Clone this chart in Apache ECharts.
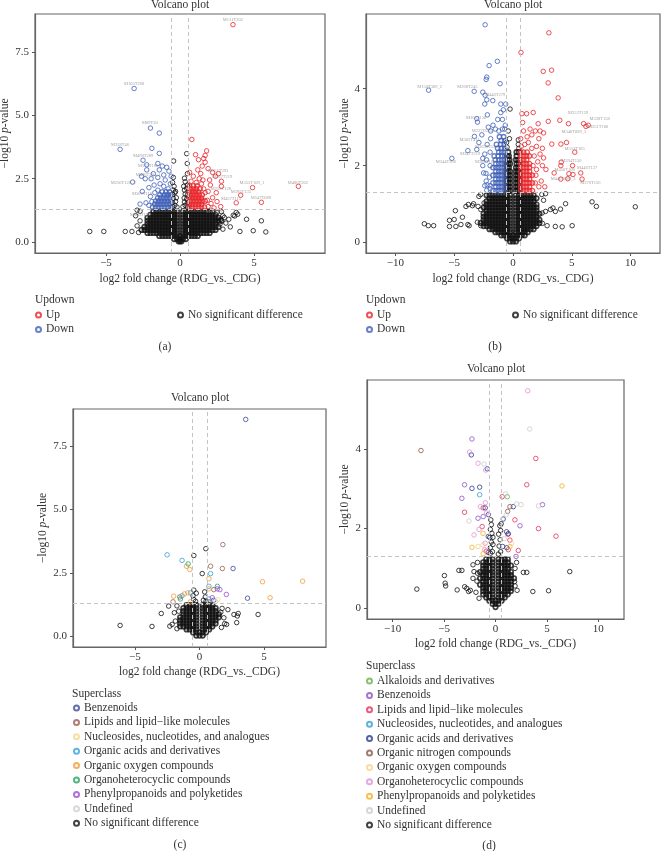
<!DOCTYPE html>
<html>
<head>
<meta charset="utf-8">
<script src="https://cdn.jsdelivr.net/npm/echarts@6/dist/echarts.min.js"></script>
<style>
  html, body { margin: 0; padding: 0; background: #fff; }
  #chart { width: 662px; height: 851px; }
</style>
</head>
<body>
<div id="chart"></div>
<script>
// ---------- panel (a) : Updown, dataset 1 ----------
// rows: [y, x1, x2, ...] read off the dense black cone
const aNsRows = [
  [0.03, -0.1, 0, 0.1],
  [0.12, -0.4, -0.2, 0, 0.2, 0.4],
  [0.24, -1.4, -1.2, -1.0, -0.8, -0.6, -0.4, -0.2, 0, 0.2, 0.4, 0.6, 0.8, 1.0, 1.2],
  [0.36, -2.2, -2.0, -1.8, -1.6, -1.4, -1.2, -1.0, -0.8, -0.6, -0.4, -0.2, 0.2, 0.4, 0.6, 0.8, 1.0, 1.2, 1.4, 1.6, 1.8, 2.0],
  [0.48, -2.6, -2.4, -2.2, -2.0, -1.8, -1.6, -1.4, -1.2, -1.0, -0.8, -0.6, -0.4, -0.2, 0.2, 0.4, 0.6, 0.8, 1.0, 1.2, 1.4, 1.6, 1.8, 2.0, 2.2, 2.4],
  [0.6, -2.4, -2.2, -2.0, -1.8, -1.6, -1.4, -1.2, -1.0, -0.8, -0.6, -0.4, -0.2, 0.2, 0.4, 0.6, 0.8, 1.0, 1.2, 1.4, 1.6, 1.8, 2.0, 2.2, 2.4, 2.6],
  [0.72, -2.2, -2.0, -1.8, -1.6, -1.4, -1.2, -1.0, -0.8, -0.6, -0.4, -0.2, 0.2, 0.4, 0.6, 0.8, 1.0, 1.2, 1.4, 1.6, 1.8, 2.0, 2.2, 2.4],
  [0.84, -2.2, -2.0, -1.8, -1.6, -1.4, -1.2, -1.0, -0.8, -0.6, -0.4, -0.2, 0.2, 0.4, 0.6, 0.8, 1.0, 1.2, 1.4, 1.6, 1.8, 2.0, 2.2, 2.4, 2.6, 2.8],
  [0.96, -2.2, -2.0, -1.8, -1.6, -1.4, -1.2, -1.0, -0.8, -0.6, -0.4, -0.2, 0.2, 0.4, 0.6, 0.8, 1.0, 1.2, 1.4, 1.6, 1.8, 2.0, 2.2, 2.4, 2.6],
  [1.08, -2.0, -1.8, -1.6, -1.4, -1.2, -1.0, -0.8, -0.6, -0.4, -0.2, 0.2, 0.4, 0.6, 0.8, 1.0, 1.2, 1.4, 1.6, 1.8, 2.0, 2.2, 2.4],
  [1.2, -1.8, -1.6, -1.4, -1.2, -1.0, -0.8, -0.6, -0.4, -0.2, 0.2, 0.4, 0.6, 0.8, 1.0, 1.2, 1.4, 1.6, 1.8, 2.0, 2.2]
];
const aNsPts = [
  [-0.5, 1.4], [-0.35, 1.45], [-0.2, 1.38], [0.2, 1.4], [0.35, 1.45], [0.5, 1.38], [-0.5, 1.55], [-0.3, 1.6],
  [0.3, 1.58], [0.5, 1.55], [-0.45, 1.72], [-0.25, 1.75], [0.28, 1.74], [0.45, 1.7], [-0.5, 1.88], [-0.35, 1.95],
  [0.35, 1.9], [0.5, 1.86], [-0.45, 2.05], [0.3, 2.05], [0.45, 2.12], [-0.4, 2.2], [0.5, 2.25], [-0.5, 2.35],
  [0.35, 2.38], [-0.45, 2.55], [0.3, 2.52], [0.5, 2.7], [0.49, 3.1], [-0.43, 3.2], [0.45, 3.49], [-0.3, 2.0], [0.25, 2.2],
  [-6.1, 0.42], [-5.15, 0.42], [-3.7, 0.42], [-3.25, 0.42], [-2.9, 0.64], [-2.7, 0.84], [-3.0, 1.04], [-2.7, 1.22],
  [-2.9, 1.26], [-2.8, 0.38], [2.5, 1.17], [2.9, 1.04], [3.3, 0.9], [3.6, 1.06], [3.8, 1.17], [4.5, 0.9], [5.5, 0.84],
  [4.05, 0.42], [4.95, 0.45], [5.8, 0.4], [2.7, 0.71], [2.9, 0.51], [3.0, 0.97], [3.7, 1.03], [3.9, 1.1], [2.75, 0.9],
  [3.1, 0.75], [2.8, 1.2], [3.4, 0.6]
];
const aUpRows = [
  [1.38, 0.65, 0.85, 1.05, 1.25, 1.45, 1.65],
  [1.5, 0.65, 0.85, 1.05, 1.25, 1.45],
  [1.62, 0.7, 0.9, 1.1, 1.3, 1.5, 1.7],
  [1.74, 0.65, 0.85, 1.05, 1.25, 1.45],
  [1.86, 0.7, 0.9, 1.1, 1.3, 1.5],
  [1.98, 0.65, 0.85, 1.05, 1.25],
  [2.1, 0.7, 0.9, 1.1, 1.35],
  [2.22, 0.65, 0.9, 1.15]
];
const aUpPts = [
  [1.9, 1.4], [2.1, 1.52], [1.85, 1.65], [2.2, 1.75], [1.7, 1.95], [1.6, 2.1], [1.9, 2.0], [2.05, 2.25], [1.45, 2.3],
  [0.75, 2.4], [1.1, 2.35], [1.3, 2.5], [0.9, 2.6], [1.55, 2.45], [2.0, 2.45], [1.4, 2.7], [0.65, 2.75], [1.2, 2.85],
  [1.5, 3.0], [1.7, 3.15], [1.25, 3.25], [1.6, 3.3], [1.05, 3.45], [1.7, 3.42], [1.8, 3.6], [0.8, 4.05], [2.2, 2.75],
  [2.4, 2.6], [2.3, 1.35], [2.6, 2.7], [2.8, 2.4], [2.8, 2.2], [2.75, 1.4], [3.58, 8.58], [4.9, 2.15], [4.1, 1.85],
  [3.8, 1.55], [5.5, 1.57], [8.0, 2.2], [1.9, 2.9], [2.45, 1.95], [2.5, 1.6]
];
const aDownRows = [
  [1.38, -0.65, -0.85, -1.05, -1.25, -1.45, -1.65, -1.85],
  [1.5, -0.7, -0.9, -1.1, -1.3, -1.5, -1.7],
  [1.62, -0.65, -0.85, -1.05, -1.25, -1.45, -1.65],
  [1.74, -0.7, -0.9, -1.1, -1.3, -1.5],
  [1.86, -0.65, -0.85, -1.05, -1.35],
  [1.98, -0.7, -0.95, -1.2]
];
const aDownPts = [
  [-1.9, 1.6], [-2.1, 1.45], [-2.3, 1.55], [-2.0, 1.8], [-1.7, 1.95], [-1.5, 2.05], [-0.8, 2.1], [-1.1, 2.2],
  [-0.65, 2.3], [-1.35, 2.3], [-1.75, 2.25], [-2.1, 2.15], [-2.55, 2.0], [-1.95, 2.5], [-1.5, 2.55], [-1.1, 2.65],
  [-0.75, 2.8], [-0.6, 2.6], [-1.4, 2.85], [-1.8, 2.7], [-2.25, 2.85], [-1.2, 3.0], [-0.9, 2.95], [-1.5, 3.1],
  [-1.4, 3.5], [-1.9, 3.7], [-2.5, 3.23], [-2.0, 4.5], [-1.4, 4.3], [-4.05, 3.66], [-3.1, 6.06], [-3.2, 2.37],
  [-2.7, 1.5], [-2.6, 2.6], [-2.25, 3.05], [-2.35, 2.5], [-1.0, 2.45]
];
const aLabels = [
  [3.58, 8.76, 'M131T202'], [-3.1, 6.26, 'M105T268'], [-2.03, 4.7, 'M89T20'], [-4.05, 3.84, 'M338T46'],
  [-2.5, 3.4, 'M498T289'], [-2.16, 3.0, 'M519T183'], [-2.16, 2.64, 'M486T284_1'], [-3.85, 2.32, 'M250T128_2'],
  [-2.57, 1.89, 'M307T118'], [-2.7, 1.06, 'M500T190'], [2.57, 2.83, 'M351T393'], [2.84, 2.56, 'M357T219'],
  [2.77, 2.09, 'M255T128'], [4.86, 2.32, 'M355T109_1'], [4.12, 2.0, 'M395T135'], [3.45, 1.69, 'M457T115'],
  [5.47, 1.73, 'M547T089'], [7.97, 2.32, 'M486T202'], [2.36, 1.18, 'M179T99']
];

// ---------- panel (b) : Updown, dataset 2 ----------
const bNsRows = [
  [0.03, -0.25, 0, 0.25],
  [0.11, -0.5, -0.25, 0, 0.25, 0.5],
  [0.19, -1.0, -0.75, -0.5, -0.25, 0, 0.25, 0.5, 0.75, 1.0],
  [0.27, -1.5, -1.25, -1.0, -0.75, -0.5, -0.25, 0.25, 0.5, 0.75, 1.0, 1.25],
  [0.35, -2.0, -1.75, -1.5, -1.25, -1.0, -0.75, -0.5, -0.25, 0.25, 0.5, 0.75, 1.0, 1.25, 1.5, 1.75],
  [0.43, -2.5, -2.25, -2.0, -1.75, -1.5, -1.25, -1.0, -0.75, -0.5, -0.25, 0.25, 0.5, 0.75, 1.0, 1.25, 1.5, 1.75, 2.0],
  [0.51, -2.75, -2.5, -2.25, -2.0, -1.75, -1.5, -1.25, -1.0, -0.75, -0.5, -0.25, 0.25, 0.5, 0.75, 1.0, 1.25, 1.5, 1.75, 2.0, 2.25],
  [0.59, -2.5, -2.25, -2.0, -1.75, -1.5, -1.25, -1.0, -0.75, -0.5, -0.25, 0.25, 0.5, 0.75, 1.0, 1.25, 1.5, 1.75, 2.0, 2.25],
  [0.67, -2.5, -2.25, -2.0, -1.75, -1.5, -1.25, -1.0, -0.75, -0.5, -0.25, 0.25, 0.5, 0.75, 1.0, 1.25, 1.5, 1.75, 2.0],
  [0.75, -2.5, -2.25, -2.0, -1.75, -1.5, -1.25, -1.0, -0.75, -0.5, -0.25, 0.25, 0.5, 0.75, 1.0, 1.25, 1.5, 1.75, 2.0, 2.25],
  [0.83, -2.25, -2.0, -1.75, -1.5, -1.25, -1.0, -0.75, -0.5, -0.25, 0.25, 0.5, 0.75, 1.0, 1.25, 1.5, 1.75, 2.0],
  [0.91, -2.5, -2.25, -2.0, -1.75, -1.5, -1.25, -1.0, -0.75, -0.5, -0.25, 0.25, 0.5, 0.75, 1.0, 1.25, 1.5, 1.75, 2.0],
  [0.99, -2.25, -2.0, -1.75, -1.5, -1.25, -1.0, -0.75, -0.5, -0.25, 0.25, 0.5, 0.75, 1.0, 1.25, 1.5, 1.75, 2.0],
  [1.07, -2.25, -2.0, -1.75, -1.5, -1.25, -1.0, -0.75, -0.5, -0.25, 0.25, 0.5, 0.75, 1.0, 1.25, 1.5, 1.75],
  [1.15, -2.0, -1.75, -1.5, -1.25, -1.0, -0.75, -0.5, -0.25, 0.25, 0.5, 0.75, 1.0, 1.25, 1.5, 1.75, 2.0],
  [1.23, -2.25, -2.0, -1.75, -1.5, -1.25, -1.0, -0.75, -0.5, -0.25, 0.25, 0.5, 0.75, 1.0, 1.25, 1.5, 1.75],
  [1.35, -0.55, -0.4, -0.25, 0.25, 0.4, 0.55],
  [1.45, -0.55, -0.4, -0.25, 0.25, 0.4, 0.55],
  [1.55, -0.55, -0.4, -0.25, 0.25, 0.4, 0.55],
  [1.65, -0.55, -0.4, -0.25, 0.25, 0.4, 0.55],
  [1.75, -0.55, -0.4, -0.25, 0.25, 0.4, 0.55],
  [1.85, -0.55, -0.4, -0.25, 0.25, 0.4, 0.5],
  [1.95, -0.5, -0.35, 0.25, 0.45],
  [2.05, -0.55, -0.4, -0.25, 0.3, 0.5],
  [2.15, -0.45, -0.3, 0.25, 0.45],
  [2.25, -0.5, -0.35, 0.3],
  [2.35, -0.4, 0.3, 0.5]
];
const bNsPts = [
  [-0.55, 2.6], [-0.3, 2.7], [-0.4, 2.9], [0.45, 2.55], [0.45, 2.67], [-0.25, 3.47], [0.5, 2.45], [-0.5, 2.48],
  [-7.54, 0.49], [-7.2, 0.44], [-6.75, 0.44], [-5.4, 0.58], [-5.0, 0.6], [-5.4, 0.42], [-4.86, 0.42], [-4.43, 0.47],
  [-4.9, 0.83], [-4.3, 0.66], [-3.8, 0.99], [-3.45, 0.96], [-2.97, 0.94], [-2.74, 0.86], [-3.73, 0.44], [-3.03, 0.53],
  [-2.74, 0.44], [-2.46, 1.03], [-3.36, 1.01], [-4.0, 0.94], [-3.84, 0.47], [-2.9, 1.2], [-2.75, 1.25],
  [2.77, 1.27], [2.48, 0.77], [2.77, 0.81], [3.19, 0.86], [3.6, 0.81], [4.04, 0.87], [4.47, 1.01], [2.9, 0.44],
  [3.6, 0.42], [4.18, 0.41], [5.03, 0.44], [6.72, 1.06], [7.09, 0.94], [10.4, 0.93], [2.5, 0.5], [2.6, 1.1],
  [2.45, 1.25], [3.4, 0.9]
];
const bUpRows = [
  [1.35, 0.65, 0.9, 1.15, 1.4, 1.65],
  [1.45, 0.65, 0.9, 1.15, 1.4],
  [1.55, 0.65, 0.9, 1.15, 1.4, 1.65],
  [1.65, 0.65, 0.9, 1.15, 1.4],
  [1.75, 0.65, 0.9, 1.15, 1.4, 1.65],
  [1.85, 0.65, 0.9, 1.15, 1.4],
  [1.95, 0.65, 0.9, 1.15, 1.4],
  [2.05, 0.65, 0.9, 1.15, 1.4],
  [2.15, 0.65, 0.9, 1.15],
  [2.25, 0.65, 0.9, 1.15, 1.4],
  [2.35, 0.65, 0.9, 1.2]
];
const bUpPts = [
  [1.9, 1.55], [2.2, 1.45], [1.95, 1.75], [2.0, 1.9], [2.4, 1.6], [1.7, 2.0], [2.1, 2.1], [1.8, 2.25], [2.5, 2.0],
  [1.6, 2.45], [0.7, 2.5], [1.0, 2.55], [1.3, 2.6], [2.0, 2.5], [2.3, 2.3], [0.65, 2.7], [1.2, 2.75], [1.6, 2.8],
  [2.2, 2.7], [2.5, 2.45], [0.9, 2.9], [1.45, 2.95], [1.9, 2.9], [2.6, 2.85], [2.7, 1.45], [2.8, 1.9], [2.3, 2.9],
  [2.6, 2.2], [3.05, 5.45], [0.68, 4.94], [2.57, 4.45], [3.28, 4.48], [2.99, 4.15], [3.84, 3.76], [4.72, 3.09],
  [6.0, 3.09], [6.2, 3.02], [6.4, 3.05], [3.98, 3.18], [3.0, 3.15], [2.14, 3.09], [1.72, 3.38], [1.16, 3.35],
  [0.76, 3.35], [0.82, 3.12], [3.3, 2.56], [4.07, 2.56], [4.55, 2.6], [5.25, 2.35], [4.1, 2.09], [4.07, 2.0],
  [5.06, 2.0], [3.5, 1.81], [4.75, 1.79], [5.1, 1.77], [5.76, 1.81], [4.07, 1.65], [4.66, 1.66], [5.87, 1.65]
];
const bDownRows = [
  [1.35, -0.7, -0.95, -1.2, -1.45, -1.7],
  [1.45, -0.7, -0.95, -1.2, -1.45],
  [1.55, -0.7, -0.95, -1.2, -1.45, -1.7],
  [1.65, -0.7, -0.95, -1.2, -1.45],
  [1.75, -0.7, -0.95, -1.2, -1.45, -1.7],
  [1.85, -0.7, -0.95, -1.2, -1.45],
  [1.95, -0.7, -0.95, -1.2, -1.45, -1.7],
  [2.05, -0.7, -0.95, -1.2, -1.45],
  [2.15, -0.7, -0.95, -1.2, -1.5],
  [2.25, -0.7, -0.95, -1.25, -1.6],
  [2.35, -0.7, -0.95, -1.2],
  [2.45, -0.7, -1.0, -1.3],
  [2.55, -0.75, -1.05, -1.4],
  [2.65, -0.7, -1.0],
  [2.75, -0.8, -1.15]
];
const bDownPts = [
  [-1.95, 1.4], [-2.2, 1.5], [-2.0, 1.7], [-2.3, 1.8], [-1.95, 2.0], [-2.25, 2.15], [-1.95, 2.35], [-2.2, 2.55],
  [-1.9, 2.7], [-2.4, 2.3], [-2.57, 2.19], [-2.57, 2.0], [-2.5, 1.81], [-2.28, 1.6], [-2.4, 1.48], [-2.23, 1.36],
  [-1.94, 1.48], [-1.9, 2.9], [-1.5, 2.95], [-1.2, 2.9], [-0.9, 2.95], [-0.7, 2.95], [-2.1, 3.0], [-1.7, 3.05],
  [-1.3, 3.2], [-0.9, 3.2], [-0.65, 3.05], [-2.37, 5.66], [-1.33, 4.71], [-2.03, 4.6], [-2.23, 4.3], [-2.28, 4.24],
  [-1.1, 4.13], [-7.18, 3.96], [-3.3, 3.93], [-2.57, 3.91], [-2.37, 3.83], [-2.23, 3.71], [-2.4, 3.6], [-1.72, 3.69],
  [-1.04, 3.6], [-0.62, 3.6], [-0.82, 3.45], [-1.04, 3.38], [-2.18, 3.32], [-3.08, 3.22], [-3.02, 3.13],
  [-3.28, 2.76], [-3.08, 2.42], [-3.84, 2.39], [-5.2, 2.19], [-2.65, 2.8], [-2.9, 2.6]
];
const bLabels = [
  [-7.1, 4.04, 'M150T309_2'], [-3.87, 4.06, 'M268T245'], [-1.53, 3.84, 'M440T279'], [-3.14, 3.24, 'M365T150'],
  [-2.65, 2.91, 'M227T085'], [-3.7, 2.68, 'M302T411'], [-2.37, 2.48, 'M363T253'], [-3.64, 2.31, 'M347T219'],
  [-5.7, 2.09, 'M344T206'], [-2.37, 2.09, 'M386T161'], [5.54, 3.38, 'M353T159'], [7.37, 3.21, 'M338T158'],
  [7.23, 3.0, 'M251T180'], [5.17, 2.89, 'M340T089_3'], [5.25, 2.43, 'M553T185'], [4.97, 2.13, 'M394T150'],
  [4.4, 1.9, 'M450T108'], [6.3, 1.94, 'M446T127'], [4.26, 1.65, 'M440T089_3'], [6.58, 1.55, 'M376T156']
];

// ---------- panel (c) : Superclass ----------
const cNsRows = [
  [0.03, -0.25, 0, 0.25],
  [0.15, -0.5, -0.25, 0, 0.25, 0.5],
  [0.27, -1.0, -0.75, -0.5, -0.25, 0.25, 0.5, 0.75],
  [0.39, -1.5, -1.25, -1.0, -0.75, -0.5, -0.25, 0.25, 0.5, 0.75, 1.0],
  [0.51, -1.5, -1.25, -1.0, -0.75, -0.5, -0.25, 0.25, 0.5, 0.75, 1.0, 1.25],
  [0.63, -1.5, -1.25, -1.0, -0.75, -0.5, -0.25, 0.25, 0.5, 0.75, 1.0, 1.25],
  [0.75, -1.5, -1.25, -1.0, -0.75, -0.5, -0.25, 0.25, 0.5, 0.75, 1.0, 1.25, 1.5],
  [0.87, -1.25, -1.0, -0.75, -0.5, -0.25, 0.25, 0.5, 0.75, 1.0, 1.25, 1.5],
  [0.99, -1.25, -1.0, -0.75, -0.5, -0.25, 0.25, 0.5, 0.75, 1.0, 1.25],
  [1.11, -1.25, -1.0, -0.75, -0.5, -0.25, 0.25, 0.5, 0.75, 1.0, 1.25],
  [1.23, -1.0, -0.75, -0.5, -0.25, 0.25, 0.5, 0.75, 1.0]
];
const cNsPts = [
  [-0.44, 3.18], [0.49, 3.45], [0.21, 2.47], [-0.44, 1.82], [-0.25, 1.7], [-0.45, 1.45], [-0.3, 1.38], [0.3, 1.42],
  [0.45, 1.55], [0.4, 1.75], [-0.5, 1.6], [0.5, 1.38],
  [-6.15, 0.43], [-3.68, 0.39], [-2.96, 0.9], [-2.39, 1.19], [-2.12, 0.47], [-2.3, 0.4], [-1.87, 0.6], [-1.95, 0.93],
  [-1.61, 0.99], [-1.75, 0.3], [1.89, 0.73], [1.95, 0.5], [2.1, 0.47], [2.67, 0.86], [2.93, 0.8], [3.0, 0.9],
  [2.88, 0.54], [4.54, 0.86], [1.75, 1.1], [1.7, 0.35], [-1.75, 1.2], [1.65, 0.95], [2.2, 1.05]
];
const cClasses = ['Benzenoids', 'Lipids and lipid\u2212like molecules', 'Nucleosides, nucleotides, and analogues',
  'Organic acids and derivatives', 'Organic oxygen compounds', 'Organoheterocyclic compounds',
  'Phenylpropanoids and polyketides', 'Undefined'];
const cColors = ['#3c4b96', '#9a6050', '#f6d68e', '#3aa0d4', '#f29b3c', '#2aa35e', '#9a4fd0', '#cfcfcf'];
const cPoints = [
  [[3.58, 8.54], [2.6, 2.67], [3.72, 1.5], [1.1, 1.42]],
  [[1.81, 3.61], [0.86, 2.76], [1.77, 2.67], [1.11, 1.84], [-2.05, 1.36], [0.72, 1.36], [-1.53, 1.55]],
  [[1.42, 1.45]],
  [[-2.51, 3.21], [-1.35, 2.99], [0.86, 2.47], [0.73, 1.97], [-1.35, 1.6], [-0.7, 1.71], [0.73, 1.47]],
  [[-1.01, 2.76], [-0.75, 2.63], [0.73, 2.27], [0.73, 1.87], [4.88, 2.15], [7.99, 2.17], [5.47, 1.52],
   [-2.0, 1.58], [-1.17, 1.67], [-0.91, 1.71], [-0.7, 1.36]],
  [[-0.88, 2.85], [1.38, 1.97], [-1.48, 1.47]],
  [[1.38, 1.87], [1.58, 1.84], [2.08, 1.65], [0.99, 1.52]],
  [[1.25, 1.38]]
];

// ---------- panel (d) : Superclass ----------
const dNsRows = [
  [0.03, 0],
  [0.11, -0.3, 0, 0.3],
  [0.19, -0.6, -0.3, 0, 0.3, 0.6],
  [0.27, -0.9, -0.6, -0.3, 0.3, 0.6, 0.9],
  [0.35, -1.2, -0.9, -0.6, -0.3, 0.3, 0.6, 0.9, 1.2],
  [0.43, -1.2, -0.9, -0.6, -0.3, 0.3, 0.6, 0.9, 1.2, 1.5],
  [0.51, -1.2, -0.9, -0.6, -0.3, 0.3, 0.6, 0.9, 1.2, 1.5],
  [0.59, -1.5, -1.2, -0.9, -0.6, -0.3, 0.3, 0.6, 0.9, 1.2, 1.5],
  [0.67, -1.2, -0.9, -0.6, -0.3, 0.3, 0.6, 0.9, 1.2, 1.5],
  [0.75, -1.5, -1.2, -0.9, -0.6, -0.3, 0.3, 0.6, 0.9, 1.2, 1.5, 1.8],
  [0.83, -1.2, -0.9, -0.6, -0.3, 0.3, 0.6, 0.9, 1.2, 1.5],
  [0.91, -1.5, -1.2, -0.9, -0.6, -0.3, 0.3, 0.6, 0.9, 1.2, 1.5],
  [0.99, -1.2, -0.9, -0.6, -0.3, 0.3, 0.6, 0.9, 1.2],
  [1.07, -1.2, -0.9, -0.6, -0.3, 0.3, 0.6, 0.9, 1.2, 1.5],
  [1.15, -1.2, -0.9, -0.6, -0.3, 0.3, 0.6, 0.9, 1.2],
  [1.23, -0.9, -0.6, -0.3, 0.3, 0.6, 0.9, 1.2]
];
const dNsPts = [
  [-0.46, 2.22], [-0.4, 2.1], [-0.5, 1.98], [-0.35, 1.88], [-0.55, 1.78], [-0.4, 1.66], [-0.5, 1.52], [-0.3, 1.42],
  [-0.25, 1.6], [-0.25, 1.78], [0.42, 2.07], [0.55, 2.12], [0.3, 1.86], [0.45, 1.72], [0.35, 1.56], [0.5, 1.42],
  [0.28, 1.36], [0.5, 1.95], [-0.5, 1.38],
  [-7.65, 0.48], [-4.97, 0.82], [-4.9, 0.63], [-4.85, 0.56], [-3.56, 0.95], [-3.27, 0.95], [-3.73, 0.46],
  [-3.0, 0.54], [-2.61, 0.42], [-2.45, 0.45], [-2.8, 0.5], [-2.19, 1.09], [-2.09, 0.92], [-2.19, 0.75],
  [-1.75, 0.88], [-1.8, 0.68], [-1.9, 0.4], [1.9, 1.0], [1.85, 0.67], [1.9, 0.56], [2.71, 0.9], [3.04, 0.9],
  [3.63, 0.42], [5.16, 0.44], [7.22, 0.92], [2.05, 1.15], [2.1, 0.45], [-1.6, 0.25], [-1.75, 1.15]
];
const dClasses = ['Alkaloids and derivatives', 'Benzenoids', 'Lipids and lipid\u2212like molecules',
  'Nucleosides, nucleotides, and analogues', 'Organic acids and derivatives', 'Organic nitrogen compounds',
  'Organic oxygen compounds', 'Organoheterocyclic compounds', 'Phenylpropanoids and polyketides', 'Undefined'];
const dColors = ['#6ab04c', '#9152c2', '#e8305a', '#3a9fd0', '#283c8f', '#8a5a48', '#f6d28e', '#e094d6', '#f5b026', '#cccccc'];
const dPoints = [
  [[1.14, 2.8]],
  [[-2.29, 4.25], [-3.01, 3.1], [-3.27, 2.76], [4.57, 2.6], [-1.7, 2.26], [-1.2, 2.3], [2.38, 2.07], [2.0, 1.3]],
  [[3.92, 3.76], [3.04, 3.1], [0.65, 2.8], [-1.2, 2.52], [-3.01, 2.41], [1.89, 2.22], [4.18, 2.0], [5.88, 1.81],
   [-1.3, 2.05], [1.4, 1.71], [1.2, 1.86], [-0.9, 1.43], [1.24, 1.47], [2.22, 1.45]],
  [[-1.54, 2.85]],
  [[-2.35, 3.85], [-0.8, 3.5], [-2.29, 3.01], [-1.54, 3.04], [-1.0, 2.52], [1.73, 2.55], [-0.7, 2.35], [0.75, 2.24],
   [-0.7, 1.8], [1.08, 1.92], [1.25, 1.87], [1.1, 1.52], [0.7, 1.55], [-0.7, 1.4]],
  [[-7.25, 3.96], [1.4, 2.55], [1.18, 2.43]],
  [[1.57, 1.63], [-1.21, 1.59], [-1.7, 1.55]],
  [[3.14, 5.46], [-2.52, 3.92], [-1.7, 3.64], [-0.95, 3.47], [-0.98, 2.65], [-1.47, 2.55], [-0.88, 2.39],
   [-2.09, 1.84], [-1.6, 1.98], [-1.0, 1.63], [-1.05, 1.47]],
  [[6.47, 3.07], [-1.21, 1.88], [-2.29, 1.53], [1.4, 1.55], [-1.2, 1.37]],
  [[3.33, 4.5], [-1.11, 3.62], [0.98, 2.87], [2.06, 2.62], [2.48, 2.6], [4.18, 2.57], [-2.58, 2.19], [1.05, 2.35], [0.85, 1.75]]
];

const xTicksNarrow = [-5, 0, 5];
const xTicksWide = [-10, -5, 0, 5, 10];
const yTicksA = [0, 2.5, 5, 7.5];
const yTicksB = [0, 2, 4];

const FONT = 'Liberation Serif';
const NS = 'No significant difference';

// dense rows get a heavier ring so the overlapping circles read as a solid mass
function fromRows(rows, ring) {
  const out = [];
  rows.forEach(r => r.slice(1).forEach(x => out.push({ value: [x, r[0]], itemStyle: { borderWidth: ring } })));
  return out;
}

function pointSeries(name, gi, data, color) {
  return {
    name: name,
    type: 'scatter',
    xAxisIndex: gi,
    yAxisIndex: gi,
    data: data,
    symbol: 'circle',
    symbolSize: 4.5,
    silent: true,
    animation: false,
    itemStyle: { color: 'rgba(0,0,0,0)', borderColor: color, borderWidth: 1 }
  };
}

function nsSeries(prefix, gi, data) {
  const s = pointSeries(prefix + NS, gi, data, '#111');
  // threshold lines |log2FC| = 0.58, p = 0.05
  s.markLine = {
    silent: true,
    symbol: 'none',
    animation: false,
    label: { show: false },
    lineStyle: { type: [4, 3], color: '#c4c4c4', width: 1 },
    data: [{ xAxis: -0.58 }, { xAxis: 0.58 }, { yAxis: 1.3 }]
  };
  return s;
}

function labelSeries(gi, data) {
  return {
    type: 'scatter',
    xAxisIndex: gi,
    yAxisIndex: gi,
    data: data,
    symbolSize: 1,
    silent: true,
    animation: false,
    itemStyle: { color: 'rgba(0,0,0,0)' },
    label: {
      show: true,
      position: 'inside',
      formatter: p => p.value[2],
      fontFamily: FONT,
      fontSize: 4.5,
      color: '#8a8a8a'
    },
    z: 5
  };
}

const minus = v => (v < 0 ? '\u2212' + Math.abs(v) : String(v));

function xAxis(gi, min, max, ticks, gap) {
  return {
    gridIndex: gi, type: 'value', min: min, max: max,
    name: 'log2 fold change (RDG_vs._CDG)', nameLocation: 'middle', nameGap: gap,
    nameTextStyle: { fontFamily: FONT, fontSize: 11.5, color: '#333' },
    axisLine: { show: true, onZero: false, lineStyle: { color: '#666', width: 1.2 } },
    axisTick: { show: true, inside: false, length: 3, customValues: ticks, lineStyle: { color: '#555' } },
    axisLabel: { customValues: ticks, margin: 5, formatter: minus, fontFamily: FONT, fontSize: 11, color: '#333' },
    splitLine: { show: false }
  };
}

function yAxis(gi, min, max, ticks, gap, digits) {
  return {
    gridIndex: gi, type: 'value', min: min, max: max,
    name: '{n|\u2212log10 }{i|p}{n|-value}', nameLocation: 'middle', nameGap: gap,
    nameTextStyle: {
      rich: {
        n: { fontFamily: FONT, fontSize: 11.5, color: '#333' },
        i: { fontFamily: FONT, fontSize: 11.5, color: '#333', fontStyle: 'italic' }
      }
    },
    axisLine: { show: true, onZero: false, lineStyle: { color: '#666', width: 1.2 } },
    axisTick: { show: true, inside: false, length: 3, customValues: ticks, lineStyle: { color: '#555' } },
    axisLabel: { customValues: ticks, margin: 6, formatter: v => v.toFixed(digits), fontFamily: FONT, fontSize: 11, color: '#333' },
    splitLine: { show: false }
  };
}

function textTitle(text, left, top, align) {
  return {
    text: text, left: left, top: top, textAlign: align || 'left', padding: 0,
    textStyle: { fontFamily: FONT, fontSize: 11.5, fontWeight: 'normal', color: '#333' }
  };
}

function legend(left, top, names) {
  return {
    left: left, top: top, orient: 'vertical', padding: 0, itemGap: 0.4,
    itemWidth: 5, itemHeight: 5, icon: 'circle', selectedMode: false,
    data: names,
    formatter: n => n.slice(2),
    textStyle: { fontFamily: FONT, fontSize: 11.5, color: '#333', lineHeight: 14 }
  };
}

const gridBase = { show: true, borderColor: '#666', borderWidth: 1.2, outerBoundsMode: 'none' };

const series = [
  nsSeries('a:', 0, fromRows(aNsRows, 1.7).concat(aNsPts)),
  pointSeries('a:Up', 0, fromRows(aUpRows, 1.4).concat(aUpPts), '#e8262b'),
  pointSeries('a:Down', 0, fromRows(aDownRows, 1.3).concat(aDownPts), '#4060b8'),
  labelSeries(0, aLabels),
  nsSeries('b:', 1, fromRows(bNsRows, 1.7).concat(bNsPts)),
  pointSeries('b:Up', 1, fromRows(bUpRows, 1.4).concat(bUpPts), '#e8262b'),
  pointSeries('b:Down', 1, fromRows(bDownRows, 1.3).concat(bDownPts), '#4060b8'),
  labelSeries(1, bLabels),
  nsSeries('c:', 2, fromRows(cNsRows, 1.7).concat(cNsPts)),
  nsSeries('d:', 3, fromRows(dNsRows, 1.7).concat(dNsPts))
];
cClasses.forEach((c, i) => series.push(pointSeries('c:' + c, 2, cPoints[i], cColors[i])));
dClasses.forEach((c, i) => series.push(pointSeries('d:' + c, 3, dPoints[i], dColors[i])));

const chart = echarts.init(document.getElementById('chart'), null, { renderer: 'canvas' });
chart.setOption({
  backgroundColor: '#fff',
  animation: false,
  title: [
    textTitle('Volcano plot', 180, -1, 'center'),
    textTitle('Volcano plot', 513, -1, 'center'),
    textTitle('Volcano plot', 200, 392, 'center'),
    textTitle('Volcano plot', 496, 363, 'center'),
    textTitle('Updown', 35, 294),
    textTitle('Updown', 366, 294),
    textTitle('Superclass', 72, 688),
    textTitle('Superclass', 366, 660),
    textTitle('(a)', 165, 341, 'center'),
    textTitle('(b)', 495, 341, 'center'),
    textTitle('(c)', 180, 839, 'center'),
    textTitle('(d)', 489, 840, 'center')
  ],
  legend: [
    legend(35, 308, ['a:Up', 'a:Down']),
    legend(177, 308, ['a:' + NS]),
    legend(366, 308, ['b:Up', 'b:Down']),
    legend(512, 308, ['b:' + NS]),
    legend(73, 701, cClasses.map(c => 'c:' + c).concat(['c:' + NS])),
    legend(366, 674, dClasses.map(c => 'd:' + c).concat(['d:' + NS]))
  ],
  grid: [
    Object.assign({ left: 35, top: 14, width: 290, height: 239 }, gridBase),
    Object.assign({ left: 366, top: 14, width: 294, height: 239 }, gridBase),
    Object.assign({ left: 73, top: 409, width: 253, height: 238 }, gridBase),
    Object.assign({ left: 367, top: 380, width: 257, height: 239 }, gridBase)
  ],
  xAxis: [
    xAxis(0, -9.8, 9.8, xTicksNarrow, 20),
    xAxis(1, -12.5, 12.5, xTicksWide, 20),
    xAxis(2, -9.8, 9.8, xTicksNarrow, 19),
    xAxis(3, -12.5, 12.5, xTicksWide, 19)
  ],
  yAxis: [
    yAxis(0, -0.43, 9.0, yTicksA, 20, 1),
    yAxis(1, -0.27, 5.94, yTicksB, 13, 0),
    yAxis(2, -0.42, 8.95, yTicksA, 21, 1),
    yAxis(3, -0.27, 5.73, yTicksB, 16, 0)
  ],
  series: series
});
</script>
</body>
</html>
